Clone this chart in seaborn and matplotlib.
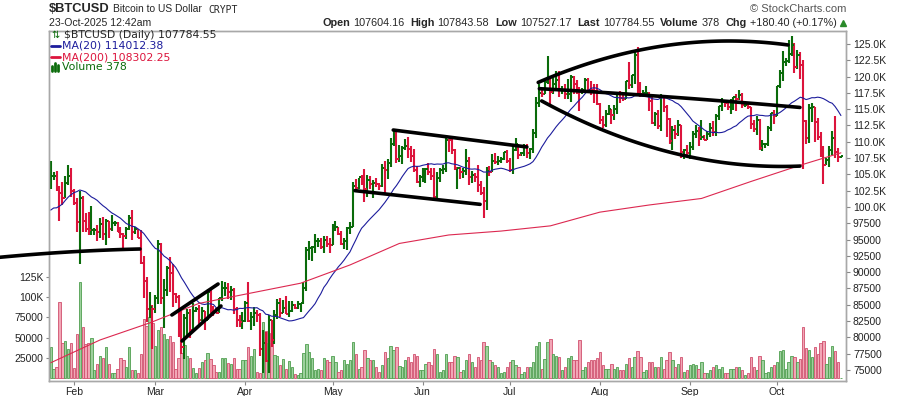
import numpy as np
import pandas as pd
import matplotlib
matplotlib.use("Agg")
import matplotlib.pyplot as plt
import matplotlib.dates as mdates
from matplotlib.lines import Line2D
from matplotlib.ticker import FixedLocator, FuncFormatter
import seaborn as sns

# ---------------- data (prices in thousand USD, volume in thousands) ----------------
start = "2025-01-24"
end = "2025-10-23"

opens = [104.1, 104.7, 104.7, 102.6, 102.1, 101.3, 103.7, 104.7,
         102.4, 100.6, 97.7, 101.4, 97.9, 96.6, 96.5,
         96.5, 96.5, 96.1, 97.4, 95.8, 97.9, 96.6,
         97.5, 97.6, 96.2, 95.8, 95.5, 96.6, 98.3,
         96.1, 96.6, 95.3, 91.4, 88.7, 84.3, 84.7,
         84.4, 86.0, 94.3, 86.1, 87.2, 90.6, 89.9,
         86.7, 86.2, 80.7, 78.5, 82.9, 83.7, 81.1,
         84.0, 84.3, 82.6, 84.1, 82.7, 86.9, 84.2,
         84.1, 83.8, 86.1, 87.5, 87.5, 86.9, 87.2,
         84.4, 82.6, 82.3, 82.5, 85.2, 82.5, 83.1,
         83.8, 83.5, 78.2, 79.2, 76.3, 82.6, 79.6,
         83.4, 85.3, 83.7, 84.5, 83.6, 84.0, 84.9,
         84.5, 85.1, 85.2, 87.5, 93.4, 93.7, 93.9,
         94.7, 94.7, 93.8, 95.0, 94.3, 94.2, 96.5,
         96.9, 95.9, 94.3, 94.7, 96.8, 97.0, 103.2,
         102.9, 104.6, 104.1, 102.8, 104.1, 103.5, 103.7,
         103.5, 103.2, 106.0, 105.6, 106.8, 109.7, 111.7,
         107.3, 107.8, 109.0, 109.4, 108.9, 107.8, 105.6,
         103.9, 104.6, 105.7, 105.8, 105.4, 104.7, 101.6,
         104.4, 105.6, 105.8, 110.3, 110.2, 108.7, 105.9,
         106.0, 105.4, 105.5, 107.0, 104.6, 104.9, 104.6,
         103.3, 102.2, 100.9, 105.5, 105.4, 107.1, 106.9,
         107.1, 107.3, 108.4, 107.1, 105.7, 108.8, 109.6,
         108.0, 108.2, 109.2, 108.2, 108.9, 111.3, 115.9,
         117.5, 117.4, 119.1, 119.8, 117.7, 118.8, 119.4,
         117.9, 117.9, 117.3, 117.4, 119.9, 118.8, 118.3,
         117.6, 117.9, 119.4, 118.0, 117.9, 117.8, 115.8,
         113.3, 112.6, 114.2, 115.0, 114.1, 115.0, 117.5,
         116.7, 116.5, 119.3, 118.7, 120.2, 123.3, 118.4,
         117.4, 117.5, 117.5, 116.2, 112.9, 114.3, 112.4,
         116.9, 115.3, 113.5, 110.1, 111.8, 111.2, 112.5,
         108.4, 108.8, 108.2, 109.2, 111.2, 111.7, 110.7,
         110.7, 110.2, 111.2, 112.1, 111.5, 113.9, 115.5,
         116.1, 115.9, 115.3, 115.4, 116.8, 116.5, 117.1,
         115.7, 115.7, 115.3, 112.7, 112.0, 113.3, 109.0,
         109.7, 109.7, 112.1, 114.4, 114.0, 118.6, 120.6,
         122.3, 122.4, 123.5, 124.8, 121.5, 123.3, 121.7,
         113.2, 110.6, 115.2, 115.3, 113.1, 110.8, 108.2,
         106.5, 107.2, 108.7, 110.6, 108.5, 107.60]

highs = [107.1, 105.3, 105.5, 103.2, 103.8, 104.8, 106.4, 106.0,
         102.7, 101.4, 102.5, 101.7, 99.1, 99.2, 100.1,
         96.8, 97.3, 98.3, 98.5, 98.1, 97.9, 98.8,
         97.9, 97.7, 97.0, 96.0, 96.9, 98.7, 99.5,
         96.9, 96.6, 96.5, 92.5, 89.3, 87.0, 85.0,
         86.5, 95.0, 94.4, 88.9, 91.0, 92.3, 91.2,
         86.8, 86.5, 84.1, 83.6, 84.3, 84.3, 85.2,
         84.7, 85.0, 84.7, 84.1, 87.4, 87.4, 84.8,
         84.5, 86.1, 88.7, 88.5, 88.3, 87.8, 87.5,
         84.6, 83.5, 83.9, 85.5, 88.5, 83.9, 84.7,
         84.2, 83.8, 81.1, 80.8, 83.5, 82.7, 84.2,
         85.9, 86.1, 85.8, 86.4, 85.5, 85.5, 85.1,
         85.6, 85.3, 88.5, 93.8, 94.7, 94.0, 95.8,
         95.3, 95.3, 95.6, 95.5, 95.2, 97.4, 97.9,
         96.9, 96.3, 95.2, 96.9, 97.7, 103.9, 104.3,
         104.5, 104.9, 105.8, 104.9, 104.8, 104.1, 104.5,
         103.7, 106.6, 107.1, 107.3, 110.6, 111.9, 111.8,
         109.5, 109.3, 110.4, 110.7, 109.3, 108.9, 106.3,
         104.9, 105.9, 105.9, 106.8, 106.0, 105.9, 105.4,
         105.9, 106.4, 110.5, 110.4, 110.4, 108.9, 106.2,
         106.2, 106.0, 108.9, 107.7, 105.5, 105.2, 106.5,
         104.0, 103.0, 106.1, 106.3, 108.1, 108.3, 107.8,
         107.6, 108.5, 108.8, 107.5, 109.7, 110.5, 109.7,
         108.4, 109.7, 109.7, 109.1, 111.9, 116.8, 118.9,
         118.2, 119.5, 123.2, 119.9, 119.8, 120.9, 120.8,
         118.6, 118.9, 119.7, 120.2, 120.1, 119.5, 118.4,
         118.3, 119.8, 119.8, 119.3, 118.8, 118.9, 116.0,
         114.0, 114.8, 115.7, 115.1, 115.7, 117.6, 117.8,
         117.7, 119.3, 122.3, 120.3, 123.7, 124.5, 119.2,
         117.9, 118.6, 117.6, 116.8, 114.6, 114.8, 117.4,
         117.0, 115.7, 113.7, 112.4, 112.6, 113.4, 112.6,
         108.9, 109.5, 109.9, 111.7, 112.6, 112.2, 113.4,
         111.0, 111.6, 112.9, 113.2, 114.3, 115.5, 116.7,
         116.4, 116.0, 116.6, 116.9, 117.3, 117.9, 117.5,
         116.1, 115.8, 115.4, 113.3, 114.0, 113.5, 110.3,
         109.8, 112.4, 114.4, 114.8, 118.6, 121.0, 123.9,
         122.9, 125.6, 126.2, 125.1, 124.1, 123.8, 122.5,
         113.4, 115.8, 116.0, 115.3, 113.6, 111.5, 109.3,
         107.5, 109.4, 111.7, 114.0, 109.0, 107.84]

lows = [102.8, 104.1, 102.5, 97.8, 100.3, 101.3, 103.3, 101.6,
        100.3, 96.2, 91.2, 96.2, 96.2, 95.7, 95.7,
        95.7, 94.7, 95.3, 94.9, 94.1, 95.3, 96.3,
        97.1, 96.1, 95.2, 93.4, 95.1, 96.4, 94.9,
        95.8, 95.2, 91.2, 86.1, 82.3, 83.0, 78.2,
        83.7, 85.1, 85.1, 81.5, 86.3, 87.0, 84.7,
        85.3, 80.0, 77.5, 76.6, 80.1, 79.9, 80.8,
        83.9, 82.0, 82.5, 81.2, 82.7, 83.7, 83.2,
        83.7, 83.8, 85.6, 86.3, 85.9, 85.8, 83.6,
        81.6, 81.6, 81.3, 82.4, 82.3, 81.2, 81.7,
        82.4, 77.2, 74.5, 76.2, 74.6, 78.5, 78.9,
        82.8, 83.1, 83.7, 83.6, 83.1, 83.9, 84.3,
        84.4, 83.9, 85.1, 87.1, 91.9, 91.7, 92.9,
        93.9, 93.5, 92.9, 93.8, 92.9, 94.1, 96.3,
        95.7, 94.2, 93.5, 93.4, 95.8, 96.9, 102.3,
        102.8, 103.3, 100.8, 101.5, 102.7, 101.4, 103.1,
        102.6, 103.1, 102.0, 104.3, 106.1, 109.3, 106.8,
        106.9, 106.6, 108.7, 107.5, 106.9, 105.4, 103.7,
        103.1, 103.9, 103.7, 104.9, 104.1, 101.1, 101.3,
        103.9, 105.1, 105.3, 108.4, 108.1, 105.7, 102.8,
        104.3, 104.5, 104.9, 103.4, 103.6, 103.9, 102.3,
        101.9, 98.3, 99.6, 104.7, 105.3, 106.6, 106.5,
        106.8, 107.2, 106.7, 105.3, 105.1, 108.6, 107.3,
        107.8, 107.8, 107.5, 107.4, 108.3, 110.6, 115.3,
        116.9, 117.3, 118.9, 115.7, 117.4, 117.8, 116.9,
        117.3, 116.5, 116.6, 116.1, 117.3, 117.3, 114.7,
        117.4, 117.9, 117.5, 117.1, 115.9, 115.6, 112.8,
        112.1, 112.2, 114.1, 112.7, 113.3, 114.3, 115.9,
        116.3, 116.6, 118.1, 118.2, 118.9, 117.2, 116.8,
        117.2, 117.3, 114.7, 112.7, 112.4, 112.0, 111.7,
        114.6, 110.7, 109.7, 108.7, 110.4, 110.9, 107.5,
        107.4, 108.0, 107.3, 108.8, 110.6, 109.4, 110.2,
        110.2, 110.2, 110.7, 110.9, 110.9, 113.4, 114.7,
        115.3, 114.8, 114.3, 114.8, 114.7, 116.4, 115.2,
        115.4, 115.1, 111.9, 111.5, 111.1, 108.7, 108.6,
        109.1, 109.3, 111.6, 112.7, 113.9, 118.3, 119.3,
        121.6, 122.1, 123.1, 120.6, 121.1, 119.7, 105.8,
        109.7, 109.8, 113.1, 110.0, 110.2, 107.6, 103.5,
        106.4, 106.2, 107.9, 107.5, 106.9, 107.53]

closes = [104.7, 104.7, 102.6, 102.1, 101.3, 103.7, 104.7, 102.4,
          100.6, 97.7, 101.4, 97.9, 96.6, 96.5, 96.5,
          96.5, 96.1, 97.4, 95.8, 97.9, 96.6, 97.5,
          97.6, 96.2, 95.8, 95.5, 96.6, 98.3, 96.1,
          96.6, 95.3, 91.4, 88.7, 84.3, 84.7, 84.4,
          86.0, 94.3, 86.1, 87.2, 90.6, 89.9, 86.7,
          86.2, 80.7, 78.5, 82.9, 83.7, 81.1, 84.0,
          84.3, 82.6, 84.1, 82.7, 86.9, 84.2, 84.1,
          83.8, 86.1, 87.5, 87.5, 86.9, 87.2, 84.4,
          82.6, 82.3, 82.5, 85.2, 82.5, 83.1, 83.8,
          83.5, 78.2, 79.2, 76.3, 82.6, 79.6, 83.4,
          85.3, 83.7, 84.5, 83.6, 84.0, 84.9, 84.5,
          85.1, 85.2, 87.5, 93.4, 93.7, 93.9, 94.7,
          94.7, 93.8, 95.0, 94.3, 94.2, 96.5, 96.9,
          95.9, 94.3, 94.7, 96.8, 97.0, 103.2, 102.9,
          104.6, 104.1, 102.8, 104.1, 103.5, 103.7, 103.5,
          103.2, 106.0, 105.6, 106.8, 109.7, 111.7, 107.3,
          107.8, 109.0, 109.4, 108.9, 107.8, 105.6, 103.9,
          104.6, 105.7, 105.8, 105.4, 104.7, 101.6, 104.4,
          105.6, 105.8, 110.3, 110.2, 108.7, 105.9, 106.0,
          105.4, 105.5, 107.0, 104.6, 104.9, 104.6, 103.3,
          102.2, 100.9, 105.5, 105.4, 107.1, 106.9, 107.1,
          107.3, 108.4, 107.1, 105.7, 108.8, 109.6, 108.0,
          108.2, 109.2, 108.2, 108.9, 111.3, 115.9, 117.5,
          117.4, 119.1, 119.8, 117.7, 118.8, 119.4, 117.9,
          117.9, 117.3, 117.4, 119.9, 118.8, 118.3, 117.6,
          117.9, 119.4, 118.0, 117.9, 117.8, 115.8, 113.3,
          112.6, 114.2, 115.0, 114.1, 115.0, 117.5, 116.7,
          116.5, 119.3, 118.7, 120.2, 123.3, 118.4, 117.4,
          117.5, 117.5, 116.2, 112.9, 114.3, 112.4, 116.9,
          115.3, 113.5, 110.1, 111.8, 111.2, 112.5, 108.4,
          108.8, 108.2, 109.2, 111.2, 111.7, 110.7, 110.7,
          110.2, 111.2, 112.1, 111.5, 113.9, 115.5, 116.1,
          115.9, 115.3, 115.4, 116.8, 116.5, 117.1, 115.7,
          115.7, 115.3, 112.7, 112.0, 113.3, 109.0, 109.7,
          109.7, 112.1, 114.4, 114.0, 118.6, 120.6, 122.3,
          122.4, 123.5, 124.8, 121.5, 123.3, 121.7, 113.2,
          110.6, 115.2, 115.3, 113.1, 110.8, 108.2, 106.5,
          107.2, 108.7, 110.6, 108.5, 107.6, 107.78]

vol_k = [39, 12, 14, 94, 43, 46, 36, 43,
         13, 55, 119, 63, 42, 43, 50,
         10, 17, 27, 25, 39, 18, 7,
         6, 12, 25, 23, 14, 39, 10,
         10, 6, 30, 73, 64, 75, 68,
         40, 60, 63, 55, 48, 52, 45,
         12, 25, 31, 41, 27, 25, 13,
         7, 13, 20, 23, 31, 24, 16,
         8, 8, 25, 25, 19, 17, 25,
         12, 11, 22, 22, 39, 27, 36,
         8, 7, 70, 58, 44, 56, 29,
         27, 16, 24, 11, 21, 14, 5,
         4, 6, 31, 42, 32, 25, 10,
         12, 10, 25, 22, 20, 28, 20,
         8, 10, 22, 18, 22, 45, 30,
         12, 14, 35, 25, 22, 22, 14,
         8, 16, 32, 25, 40, 35, 38,
         15, 14, 22, 26, 20, 30, 28,
         10, 10, 18, 20, 16, 36, 30,
         8, 10, 30, 20, 20, 28, 26,
         8, 10, 22, 30, 20, 14, 26,
         22, 45, 40, 22, 20, 16, 14,
         6, 8, 14, 20, 22, 16, 14,
         5, 8, 14, 14, 20, 40, 45,
         12, 24, 45, 49, 30, 28, 26,
         10, 14, 25, 28, 22, 22, 47,
         10, 14, 20, 22, 22, 25, 33,
         16, 12, 12, 18, 12, 14, 10,
         10, 18, 25, 14, 26, 34, 26,
         8, 10, 20, 20, 14, 14, 26,
         12, 22, 33, 22, 14, 18, 26,
         8, 10, 16, 18, 16, 12, 20,
         6, 6, 10, 14, 16, 12, 14,
         6, 6, 12, 12, 14, 14, 10,
         4, 6, 26, 14, 10, 28, 22,
         6, 8, 14, 16, 20, 34, 35,
         12, 20, 28, 26, 20, 24, 63,
         37, 35, 26, 38, 30, 44, 46,
         17, 26, 40, 34, 20, 0.378]

# closes Jan 5 - Jan 23 2025, only needed to start the 20-day average
prior_closes = [98.3, 102.1, 96.9, 95.0, 92.5, 94.7, 94.6, 94.5, 94.5, 96.5,
                100.5, 99.9, 104.1, 104.4, 101.1, 102.0, 106.1, 103.6, 104.4]

# MA(200)
ma200_dates = ["2025-01-24", "2025-02-10", "2025-02-27", "2025-03-16", "2025-04-03",
               "2025-04-20", "2025-05-07", "2025-05-24", "2025-06-10", "2025-06-28",
               "2025-07-15", "2025-08-01", "2025-08-18", "2025-09-05", "2025-09-22",
               "2025-10-09", "2025-10-23"]
ma200_vals = [76.1, 79.6, 82.2, 85.2, 86.8, 88.3, 91.1, 94.4, 95.7, 96.3,
              97.1, 99.2, 100.3, 101.3, 103.9, 106.4, 108.3]

month_ticks = ["2025-02-01", "2025-03-01", "2025-04-01", "2025-05-01", "2025-06-01",
               "2025-07-01", "2025-08-01", "2025-09-01", "2025-10-01"]
month_labels = ["Feb", "Mar", "Apr", "May", "Jun", "Jul", "Aug", "Sep", "Oct"]
price_ticks = [75000, 77500, 80000, 82500, 85000, 87500, 90000, 92500, 95000, 97500,
               100000, 102500, 105000, 107500, 110000, 112500, 115000, 117500,
               120000, 122500, 125000]
vol_ticks = [25000, 50000, 75000, 100000, 125000]

# hand-drawn trendlines: days after the first bar, price in thousands
arc_left_days, arc_left_px = [-17.5, 8.0, 30.7], [92.28, 93.14, 93.55]
chan_up_days, chan_up_px = [41.7, 57.6], [83.43, 88.18]
chan_lo_days, chan_lo_px = [45.2, 58.6], [79.44, 84.81]
flag_up_days, flag_up_px = [117.9, 163.9], [111.8, 109.2]
flag_lo_days, flag_lo_px = [104.7, 147.8], [102.5, 100.4]
arc_top_days = [167.8, 183.9, 201.1, 218.7, 232.1, 241.7, 253.8]
arc_top_px = [119.12, 121.78, 123.97, 125.11, 125.46, 125.35, 124.85]
mid_days, mid_px = [168.2, 185.6, 232.1, 257.9], [118.20, 117.59, 116.30, 115.23]
arc_bot_days = [169.0, 185.6, 201.1, 218.3, 232.1, 241.7, 257.9]
arc_bot_px = [116.30, 112.42, 110.27, 107.82, 106.59, 106.44, 106.29]

# ---------------- build frame ----------------
dates = pd.date_range(start, end, freq="D")
df = pd.DataFrame({"date": dates, "open": np.array(opens) * 1000,
                   "high": np.array(highs) * 1000, "low": np.array(lows) * 1000,
                   "close": np.array(closes) * 1000, "volume": np.array(vol_k) * 1000})
prev = pd.Series([opens[0]] + closes[:-1]) * 1000
df["up"] = df["close"].values >= prev.values
allc = pd.Series(prior_closes + closes) * 1000
df["ma20"] = allc.rolling(20).mean().values[len(prior_closes):]
ma200 = pd.DataFrame({"date": pd.to_datetime(ma200_dates), "ma": np.array(ma200_vals) * 1000})

GREEN = "#0a6b0a"
RED = "#dc143c"
x = mdates.date2num(df["date"])
x0 = mdates.date2num(pd.Timestamp(start))

sns.set_style("white")
plt.rcParams["font.family"] = ["Liberation Sans", "DejaVu Sans"]

fig = plt.figure(figsize=(9, 3.96), dpi=100)
rect = [49 / 900, 1 - 381 / 396, 797 / 900, 350 / 396]
axv = fig.add_axes(rect)
axp = fig.add_axes(rect, sharex=axv)
axp.patch.set_alpha(0)

# volume
vcol = np.where(df["up"], "#9dd09d", "#f2a6b6")
ecol = np.where(df["up"], "#4f9f4f", "#d0506e")
axv.bar(x, df["volume"], width=0.8, color=vcol, edgecolor=ecol, linewidth=0.6)
axv.set_ylim(-3400, 428700)

# price bars
cols = np.where(df["up"], GREEN, RED)
axp.vlines(x, df["low"], df["high"], colors=cols, lw=1.5)
axp.hlines(df["open"], x - 0.75, x, colors=cols, lw=1.4)
axp.hlines(df["close"], x, x + 0.75, colors=cols, lw=1.4)

sns.lineplot(data=df, x="date", y="ma20", ax=axp, color="#1c1c9c", lw=0.8, legend=False)
sns.lineplot(data=ma200, x="date", y="ma", ax=axp, color="#dc2850", lw=0.8, legend=False)


def draw_trend(days, px, clip=True):
    d = np.array(days)
    p = np.array(px) * 1000
    if len(d) > 2:
        coef = np.polyfit(d, p, 2)
        d = np.linspace(d[0], d[-1], 120)
        p = np.polyval(coef, d)
    axp.plot(x0 + d, p, color="black", lw=2.6, solid_capstyle="round", clip_on=clip, zorder=5)


draw_trend(arc_left_days, arc_left_px, clip=False)
draw_trend(chan_up_days, chan_up_px)
draw_trend(chan_lo_days, chan_lo_px)
draw_trend(flag_up_days, flag_up_px)
draw_trend(flag_lo_days, flag_lo_px)
draw_trend(arc_top_days, arc_top_px)
draw_trend(mid_days, mid_px)
draw_trend(arc_bot_days, arc_bot_px)

axp.set_ylim(73300, 126990)
axp.set_xlim(x0 - 0.6, x0 + 273.75)

# axes styling
for a in (axv, axp):
    for s in a.spines.values():
        s.set_color("#a8a8a8")
        s.set_linewidth(1)
    a.set_xlabel("")
    a.set_ylabel("")

axp.yaxis.tick_right()
axp.yaxis.set_major_locator(FixedLocator(price_ticks))
axp.yaxis.set_major_formatter(FuncFormatter(
    lambda v, p: f"{v / 1000:.1f}K" if v >= 100000 else f"{v:.0f}"))
axp.tick_params(axis="y", right=True, length=3, width=0.8, color="#888888",
                labelsize=7.5, pad=2, labelcolor="#222222")

axv.yaxis.tick_left()
axv.yaxis.set_major_locator(FixedLocator(vol_ticks))
axv.yaxis.set_major_formatter(FuncFormatter(
    lambda v, p: f"{v / 1000:.0f}K" if v >= 100000 else f"{v:.0f}"))
axv.tick_params(axis="y", left=True, length=2, width=0.8, color="#888888",
                labelsize=7.5, pad=2, labelcolor="#222222")

axv.set_xticks(mdates.date2num(pd.to_datetime(month_ticks)))
axv.set_xticklabels(month_labels)
axv.tick_params(axis="x", bottom=True, length=3, width=0.8, color="#888888",
                labelsize=7.5, pad=1, labelcolor="#222222")
axp.tick_params(axis="x", bottom=False, labelbottom=False)

# ---------------- header texts ----------------
def fx(p):
    return p / 900


def fy(p):
    return 1 - p / 396


fig.text(fx(49), fy(9), "$BTCUSD", fontsize=9.3, fontweight="bold", va="center")
fig.text(fx(113), fy(9.5), "Bitcoin to US Dollar", fontsize=7.4, va="center")
fig.text(fx(208), fy(10), "CRYPT", fontsize=7, family="DejaVu Sans Mono", va="center")
fig.text(fx(49), fy(23), "23-Oct-2025 12:42am", fontsize=7.6, va="center")
fig.text(fx(846), fy(9.5), "\u00a9 StockCharts.com", fontsize=8, color="#555555",
         va="center", ha="right")

fig.canvas.draw()
rend = fig.canvas.get_renderer()
pieces = [("Open", True), ("107604.16", False), ("High", True), ("107843.58", False),
          ("Low", True), ("107527.17", False), ("Last", True), ("107784.55", False),
          ("Volume", True), ("378", False), ("Chg", True), ("+180.40 (+0.17%)", False)]
items = []
total = 0
for txt, bold in pieces:
    t = fig.text(0, fy(23), txt, fontsize=7.8, va="center",
                 fontweight="bold" if bold else "normal")
    w = t.get_window_extent(rend).width
    gap = 3 if bold else 6
    items.append((t, w, gap))
    total += w + gap
cx = 837 - (total - items[-1][2])
for t, w, gap in items:
    t.set_x(fx(cx))
    cx += w + gap
fig.add_artist(Line2D([fx(843)], [fy(22.5)], marker="^", color="#2a8a2a",
                      markersize=4, transform=fig.transFigure))

# legend inside the plot
fig.text(fx(51), fy(35), "\u21c5", fontsize=7, color=GREEN, va="center", family="DejaVu Sans")
fig.text(fx(64), fy(35), "$BTCUSD (Daily) 107784.55", fontsize=7.8, va="center",
         family="DejaVu Sans")
fig.add_artist(Line2D([fx(51), fx(60)], [fy(46), fy(46)], color="#1c1c9c", lw=2,
                      transform=fig.transFigure))
fig.text(fx(62), fy(46), "MA(20) 114012.38", fontsize=7.8, color="#1c1c9c", va="center",
         family="DejaVu Sans")
fig.add_artist(Line2D([fx(51), fx(60)], [fy(57), fy(57)], color=RED, lw=2,
                      transform=fig.transFigure))
fig.text(fx(62), fy(57), "MA(200) 108302.25", fontsize=7.8, color=RED, va="center",
         family="DejaVu Sans")
for bx, bh in [(52, 5), (55, 8), (58, 6)]:
    fig.add_artist(Line2D([fx(bx), fx(bx)], [fy(71), fy(71 - bh)], color=GREEN, lw=2,
                          transform=fig.transFigure))
fig.text(fx(62), fy(67), "Volume 378", fontsize=7.8, color=GREEN, va="center",
         family="DejaVu Sans")

fig.savefig("out.png", dpi=100)
